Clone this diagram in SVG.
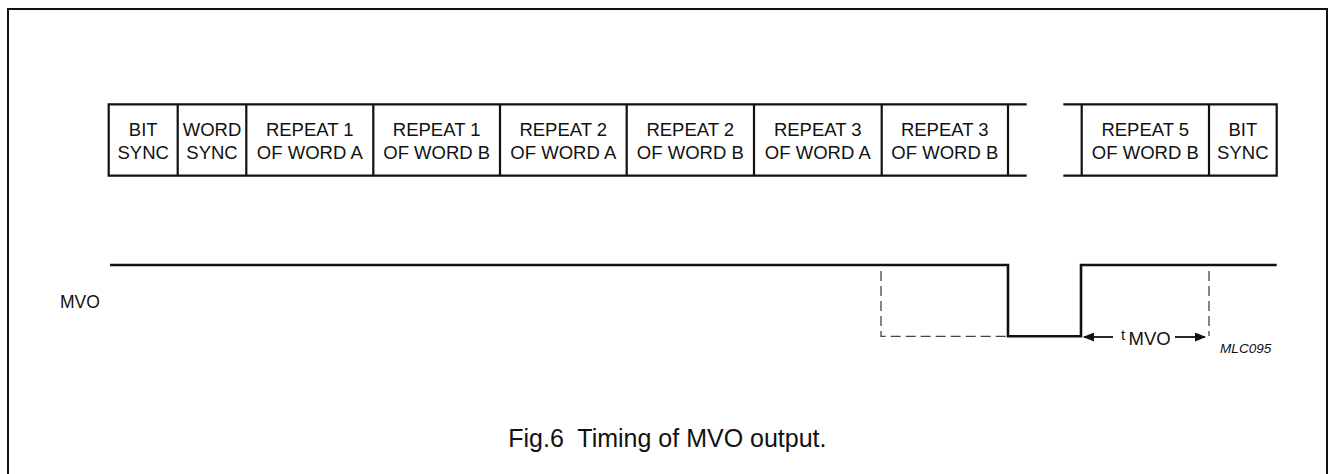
<svg xmlns="http://www.w3.org/2000/svg" width="1329" height="474" viewBox="0 0 1329 474">
<style>
.t{font-family:"Liberation Sans",Arial,sans-serif;font-size:18.5px;fill:#111;text-anchor:middle}
.box{fill:none;stroke:#111;stroke-width:2.2}
.sig{fill:none;stroke:#111;stroke-width:2.6}
.dash{fill:none;stroke:#444;stroke-width:1.3;stroke-dasharray:10 5}
.ln{fill:none;stroke:#111;stroke-width:1.8}
</style>
<defs>
<marker id="ah" markerWidth="11" markerHeight="9" refX="10" refY="4.5" orient="auto" markerUnits="userSpaceOnUse">
<path d="M0,0 L11,4.5 L0,9 Z" fill="#111"/>
</marker>
</defs>
<rect width="1329" height="474" fill="#fff"/>
<path d="M8,474 V9 H1327 V474" fill="none" stroke="#111" stroke-width="2"/>
<g id="frame-strip">
<path class="box" d="M1026.7,104.3 H108.7 V175.7 H1026.7"/>
<path class="box" d="M1063.3,104.3 H1276.7 V175.7 H1063.3"/>
</g>
<g id="bit-sync-1"><text class="t" x="143.2" y="136">BIT</text><text class="t" x="143.2" y="159.3">SYNC</text></g>
<g id="word-sync"><line class="box" x1="177.7" y1="104.3" x2="177.7" y2="175.7"/><text class="t" x="212" y="136">WORD</text><text class="t" x="212" y="159.3">SYNC</text></g>
<g id="r1a"><line class="box" x1="246.3" y1="104.3" x2="246.3" y2="175.7"/><text class="t" x="309.8" y="136">REPEAT 1</text><text class="t" x="309.8" y="159.3">OF WORD A</text></g>
<g id="r1b"><line class="box" x1="373.3" y1="104.3" x2="373.3" y2="175.7"/><text class="t" x="436.7" y="136">REPEAT 1</text><text class="t" x="436.7" y="159.3">OF WORD B</text></g>
<g id="r2a"><line class="box" x1="500" y1="104.3" x2="500" y2="175.7"/><text class="t" x="563.3" y="136">REPEAT 2</text><text class="t" x="563.3" y="159.3">OF WORD A</text></g>
<g id="r2b"><line class="box" x1="626.7" y1="104.3" x2="626.7" y2="175.7"/><text class="t" x="690.3" y="136">REPEAT 2</text><text class="t" x="690.3" y="159.3">OF WORD B</text></g>
<g id="r3a"><line class="box" x1="754" y1="104.3" x2="754" y2="175.7"/><text class="t" x="817.8" y="136">REPEAT 3</text><text class="t" x="817.8" y="159.3">OF WORD A</text></g>
<g id="r3b"><line class="box" x1="881.7" y1="104.3" x2="881.7" y2="175.7"/><text class="t" x="944.8" y="136">REPEAT 3</text><text class="t" x="944.8" y="159.3">OF WORD B</text></g>
<g id="open-a"><line class="box" x1="1008" y1="104.3" x2="1008" y2="175.7"/></g>
<g id="r5b"><line class="box" x1="1081.7" y1="104.3" x2="1081.7" y2="175.7"/><text class="t" x="1145.3" y="136">REPEAT 5</text><text class="t" x="1145.3" y="159.3">OF WORD B</text></g>
<g id="bit-sync-2"><line class="box" x1="1209" y1="104.3" x2="1209" y2="175.7"/><text class="t" x="1242.8" y="136">BIT</text><text class="t" x="1242.8" y="159.3">SYNC</text></g>
<g id="mvo-label"><text x="60" y="307.5" style="font-family:'Liberation Sans',Arial,sans-serif;font-size:17.5px;fill:#111">MVO</text></g>
<g id="connectors">
<path class="sig" d="M110,265 H1008 V336.3 H1081 V265 H1276.7"/>
<path class="dash" d="M881,271 V336.3 H1008"/>
<path class="dash" d="M1209,271 V336"/>
<line class="ln" x1="1113" y1="337" x2="1084" y2="337" marker-end="url(#ah)"/>
<line class="ln" x1="1175" y1="337" x2="1205" y2="337" marker-end="url(#ah)"/>
</g>
<g id="tmvo"><text x="1121" y="339.5" style="font-family:'Liberation Sans',Arial,sans-serif;font-size:15px;fill:#111">t</text><text x="1128.5" y="345" style="font-family:'Liberation Sans',Arial,sans-serif;font-size:18.5px;fill:#111">MVO</text></g>
<g id="code"><text x="1220" y="352.7" style="font-family:'Liberation Sans',Arial,sans-serif;font-size:13.6px;font-style:italic;fill:#111">MLC095</text></g>
<g id="caption"><text x="508.3" y="446.7" style="font-family:'Liberation Sans',Arial,sans-serif;font-size:25px;fill:#111;white-space:pre" xml:space="preserve">Fig.6  Timing of MVO output.</text></g>
</svg>
